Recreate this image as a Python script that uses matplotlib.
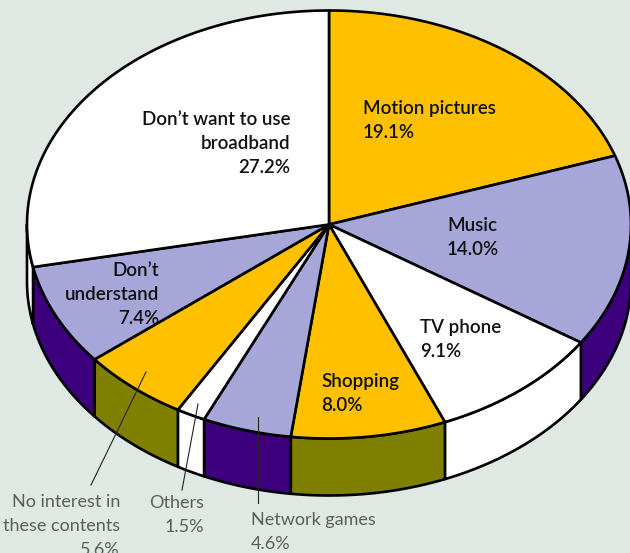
import numpy as np
import matplotlib
matplotlib.use("Agg")
import matplotlib.pyplot as plt
from matplotlib.patches import Polygon

# Share of respondents by reason, clockwise from twelve o'clock
categories = ["Motion pictures", "Music", "TV phone", "Shopping", "Network games",
              "Others", "No interest in these contents", "Don’t understand",
              "Don’t want to use broadband"]
shares = [19.1, 14.0, 9.1, 8.0, 4.6, 1.5, 5.6, 7.4, 27.2]
top_colors = ["#FFC000", "#A6A6D9", "#FFFFFF", "#FFC000", "#A6A6D9",
              "#FFFFFF", "#FFC000", "#A6A6D9", "#FFFFFF"]
side_colors = ["#808000", "#3D007D", "#FFFFFF", "#808000", "#3D007D",
               "#FFFFFF", "#808000", "#3D007D", "#FFFFFF"]
label_lines = [["Motion pictures", "19.1%"], ["Music", "14.0%"], ["TV phone", "9.1%"],
               ["Shopping", "8.0%"], ["Network games", "4.6%"], ["Others", "1.5%"],
               ["No interest in", "these contents", "5.6%"],
               ["Don’t", "understand", "7.4%"],
               ["Don’t want to use", "broadband", "27.2%"]]

BG = "#DFE8E2"
CX, CY, RX, RY, DEPTH = 329, 224.5, 302, 214, 57
LW = 1.9

fig = plt.figure(figsize=(6.30, 5.53), dpi=100, facecolor=BG)
ax = fig.add_axes([0, 0, 1, 1])
ax.set_xlim(0, 630)
ax.set_ylim(553, 0)
ax.axis("off")


def rim(a0, a1, drop=0.0, n=120):
    # Points along the ellipse, angles in degrees clockwise from the top
    t = np.radians(np.linspace(a0, a1, n))
    return np.column_stack([CX + RX * np.sin(t), CY - RY * np.cos(t) + drop])


edges = np.concatenate([[0], np.cumsum(shares)]) / np.sum(shares) * 360

# Side wall: only the front half of the disc shows
for a0, a1, c in zip(edges[:-1], edges[1:], side_colors):
    lo, hi = max(a0, 90), min(a1, 270)
    if hi <= lo:
        continue
    pts = np.vstack([rim(lo, hi), rim(lo, hi, DEPTH)[::-1]])
    ax.add_patch(Polygon(pts, closed=True, fc=c, ec="black", lw=LW, joinstyle="round", zorder=2))

# Top face wedges
for a0, a1, c in zip(edges[:-1], edges[1:], top_colors):
    pts = np.vstack([[CX, CY], rim(a0, a1)])
    ax.add_patch(Polygon(pts, closed=True, fc=c, ec="black", lw=LW, joinstyle="round", zorder=3))

# Text placement: left/right anchor x, first baseline y, alignment, dark inside or light outside
placement = [(363, 114, "left", True), (447, 231, "left", True), (420, 333, "left", True),
             (321, 387, "left", True), (251, 525, "left", False), (204, 508, "right", False),
             (120, 507, "right", False), (159, 276, "right", True), (290, 125, "right", True)]
PITCH = 24
for lines, (x, y, ha, inside) in zip(label_lines, placement):
    for i, line in enumerate(lines):
        ax.text(x, y + i * PITCH, line, ha=ha, va="baseline", family="Lato",
                fontsize=13.5 if inside else 13,
                weight="semibold" if inside else "normal",
                color="#111111" if inside else "#5A5F5C", zorder=6, clip_on=True)

# Leader lines from the outside labels into their wedges
leaders = [((146, 372), (91, 485)), ((198, 404), (182, 490)), ((258, 417), (258, 503))]
for start, end in leaders:
    ax.plot([start[0], end[0]], [start[1], end[1]], color="#222222", lw=0.8, zorder=5)

fig.savefig("out.png", dpi=100, facecolor=BG)
